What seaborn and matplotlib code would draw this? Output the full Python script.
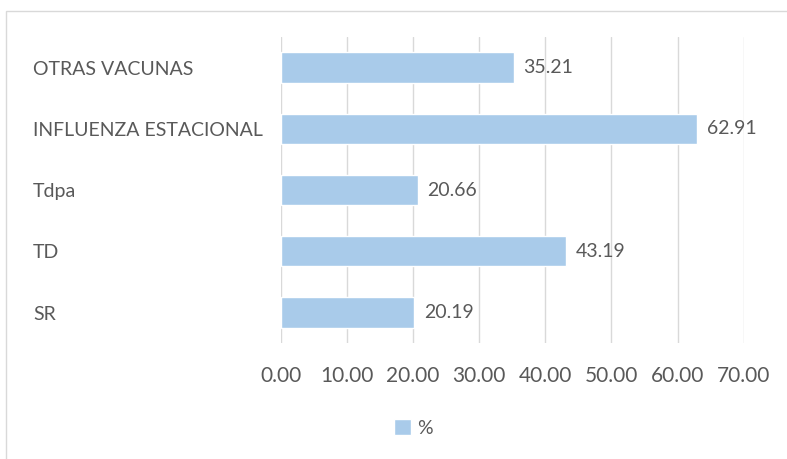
import matplotlib
matplotlib.use("Agg")
import matplotlib.pyplot as plt
import seaborn as sns
import pandas as pd
from matplotlib.patches import Rectangle, Patch

categories = ["OTRAS VACUNAS", "INFLUENZA ESTACIONAL", "Tdpa", "TD", "SR"]
values = [35.21, 62.91, 20.66, 43.19, 20.19]
xticks = [0, 10, 20, 30, 40, 50, 60, 70]
series_name = "%"

df = pd.DataFrame({"cat": categories, "val": values})

sns.set_theme(style="white")
plt.rcParams['font.family'] = ['Lato', 'DejaVu Sans']

bar_color = "#A9CBEA"
text_color = "#595959"
fs = 14

fig = plt.figure(figsize=(7.87, 4.59), dpi=100)
ax = fig.add_axes([0.357, 0.253, 0.588, 0.666])

sns.barplot(data=df, y="cat", x="val", orient="h", color=bar_color,
            width=0.5, ax=ax, saturation=1)

ax.set_xlim(0, 70)
ax.set_xticks(xticks)
ax.set_xticklabels([f"{t:.2f}" for t in xticks], color=text_color, fontsize=15)
ax.tick_params(axis="x", length=0, pad=17)
ax.tick_params(axis="y", length=0)
ax.set_yticklabels([])
for i, c in enumerate(categories):
    ax.text(-0.536, i + 0.03, c, transform=ax.get_yaxis_transform(), ha="left",
            va="center", fontsize=fs, color=text_color)
ax.set_xlabel("")
ax.set_ylabel("")
ax.grid(axis="x", color="#D9D9D9", linewidth=1)
ax.set_axisbelow(True)
for s in ax.spines.values():
    s.set_visible(False)

for c in ax.containers:
    ax.bar_label(c, labels=[f"{v:.2f}" for v in values], padding=7,
                 fontsize=fs, color=text_color)

leg = fig.legend(handles=[Patch(facecolor=bar_color, label=series_name)],
                 loc="center", bbox_to_anchor=(0.525, 0.067), frameon=False,
                 fontsize=fs, handlelength=0.9, handleheight=0.9,
                 handletextpad=0.3, labelcolor=text_color)

fig.patches.append(Rectangle((6/787, -0.01), 1.0, 1 - 11/459 + 0.01,
                             transform=fig.transFigure, fill=False,
                             edgecolor="#D9D9D9", linewidth=1))

fig.savefig("out.png", dpi=100)
